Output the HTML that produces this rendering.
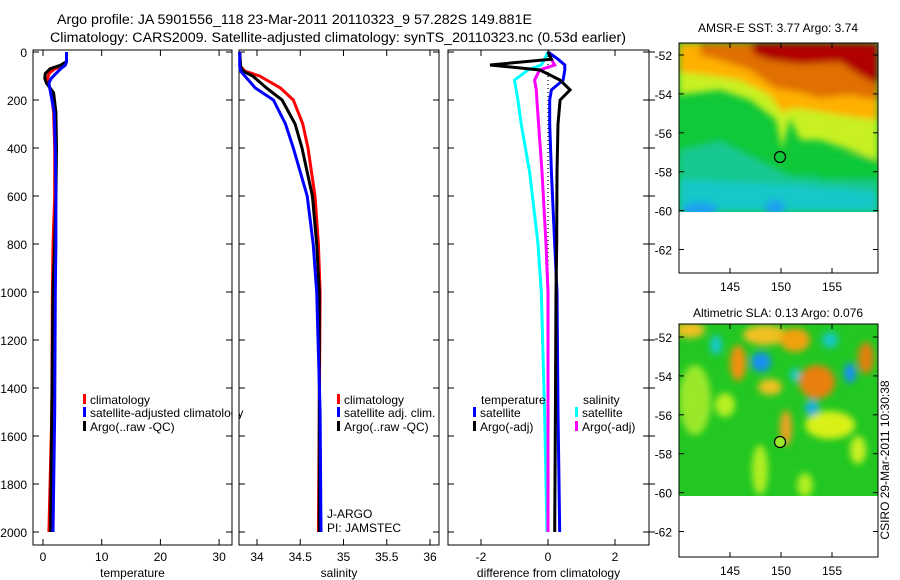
<!DOCTYPE html>
<html><head><meta charset="utf-8"><style>
body{margin:0;background:#fff;}
svg{display:block;font-family:"Liberation Sans",sans-serif;}
text{fill:#000;}
</style></head><body>
<svg id="fig" width="900" height="580" viewBox="0 0 900 580">
<defs>
<filter id="bl" x="-10%" y="-10%" width="120%" height="120%"><feGaussianBlur stdDeviation="3.5"/></filter>
<clipPath id="c1"><rect x="679" y="43" width="199" height="169"/></clipPath>
<clipPath id="c2"><rect x="679" y="324" width="199" height="172"/></clipPath>
</defs>
<text x="57" y="24" font-size="13.5" textLength="475" lengthAdjust="spacingAndGlyphs">Argo profile: JA 5901556_118 23-Mar-2011 20110323_9 57.282S 149.881E</text>
<text x="50" y="42" font-size="13.5" textLength="576" lengthAdjust="spacingAndGlyphs">Climatology: CARS2009. Satellite-adjusted climatology: synTS_20110323.nc (0.53d earlier)</text>
<g id="plots"></g>
<!-- map 1 -->
<g>
<text x="778" y="32" font-size="12" text-anchor="middle">AMSR-E SST: 3.77 Argo: 3.74</text>
<g clip-path="url(#c1)">
<rect x="679" y="43" width="199" height="169" fill="#10c838"/>
<g filter="url(#bl)">
<polygon points="679,150 720,140 760,160 790,175 840,178 878,180 878,212 679,212" fill="#14c890"/>
<polygon points="679,180 800,185 878,192 878,212 679,212" fill="#18c8c8"/>
<ellipse cx="700" cy="210" rx="18" ry="8" fill="#1aa0f0"/>
<ellipse cx="775" cy="208" rx="10" ry="8" fill="#1aa0f0"/>
<polygon points="800,165 878,150 878,180 820,180" fill="#10c838"/>
<polygon points="679,43 878,43 878,160 850,150 820,140 800,140 790,118 782,150 776,120 750,100 720,90 679,95" fill="#c8f020"/>
<polygon points="679,43 878,43 878,120 840,115 810,110 795,108 782,112 770,95 740,80 710,75 679,72" fill="#ffb000"/>
<polygon points="700,43 878,43 878,100 850,95 820,98 800,92 775,88 750,70 720,60 700,55" fill="#e07000"/>
<polygon points="750,43 878,43 878,85 860,75 840,62 800,64 770,60 755,55" fill="#b00000"/>
</g>
<circle cx="780" cy="157" r="5.5" fill="none" stroke="#000" stroke-width="1.2"/>
</g>
<rect x="679" y="43" width="199" height="230" fill="none" stroke="#000" stroke-width="1"/>
<g id="m1ticks"></g>
</g>
<!-- map 2 -->
<g>
<text x="778" y="317" font-size="12" text-anchor="middle">Altimetric SLA: 0.13 Argo: 0.076</text>
<g clip-path="url(#c2)">
<rect x="679" y="324" width="199" height="172" fill="#22c722"/>
<g filter="url(#bl)">
<ellipse cx="695" cy="400" rx="16" ry="35" fill="#9ae82a"/>
<ellipse cx="725" cy="405" rx="10" ry="12" fill="#b8f020"/>
<ellipse cx="760" cy="470" rx="8" ry="25" fill="#b0ee20"/>
<ellipse cx="805" cy="485" rx="8" ry="12" fill="#b0ee20"/>
<ellipse cx="830" cy="425" rx="25" ry="14" fill="#d8f018"/>
<ellipse cx="858" cy="450" rx="8" ry="14" fill="#c8f020"/>
<ellipse cx="690" cy="330" rx="15" ry="8" fill="#f0c020"/>
<ellipse cx="765" cy="335" rx="22" ry="10" fill="#f0c020"/>
<ellipse cx="795" cy="340" rx="15" ry="12" fill="#f0a010"/>
<ellipse cx="738" cy="363" rx="8" ry="18" fill="#f09010"/>
<ellipse cx="770" cy="387" rx="12" ry="8" fill="#f0c020"/>
<ellipse cx="817" cy="382" rx="18" ry="17" fill="#e88010"/>
<ellipse cx="866" cy="358" rx="8" ry="16" fill="#e08010"/>
<ellipse cx="786" cy="428" rx="6" ry="18" fill="#f0a020"/>
<ellipse cx="761" cy="362" rx="10" ry="10" fill="#1890f0"/>
<ellipse cx="716" cy="345" rx="6" ry="10" fill="#18c8c8"/>
<ellipse cx="850" cy="373" rx="6" ry="10" fill="#1890f0"/>
<ellipse cx="812" cy="408" rx="7" ry="8" fill="#18b0e0"/>
<ellipse cx="830" cy="340" rx="8" ry="8" fill="#18c8c8"/>
<ellipse cx="795" cy="375" rx="5" ry="7" fill="#18c8c8"/>
</g>
<circle cx="780" cy="442" r="5.5" fill="#9ae82a" stroke="#000" stroke-width="1.2"/>
</g>
<rect x="679" y="324" width="199" height="233" fill="none" stroke="#000" stroke-width="1"/>
<g id="m2ticks"></g>
</g>
<text transform="translate(889,460) rotate(-90)" font-size="12" text-anchor="middle">CSIRO 29-Mar-2011 10:30:38</text>
</svg>
<script>
// depth grids
const depthT = [0,40,55,70,90,110,130,170,250,400,600,800,1000,1500,2000];
const tempClim = [4.0,4.0,3.6,2.0,1.0,0.8,0.9,1.4,1.8,2.0,2.0,1.7,1.6,1.5,1.0];
const tempSat  = [4.0,4.0,3.8,3.0,2.2,1.4,1.0,1.3,1.9,2.1,2.2,2.2,2.1,2.0,1.7];
const tempArgo = [4.0,4.0,3.0,1.2,0.4,0.3,0.6,1.8,2.2,2.3,2.2,2.0,1.7,1.5,1.3];
const depthS = [0,60,80,100,150,200,300,400,600,800,1000,1500,2000];
const salClim = [33.80,33.81,33.86,34.03,34.27,34.42,34.53,34.59,34.67,34.71,34.73,34.72,34.71];
const salSat  = [33.80,33.80,33.81,33.86,33.98,34.19,34.33,34.42,34.58,34.65,34.69,34.73,34.74];
const salArgo = [33.80,33.81,33.84,33.95,34.11,34.29,34.44,34.52,34.64,34.69,34.72,34.72,34.72];
const depthD = [0,30,54,75,117,158,200,300,500,800,1000,1500,2000];
const dTempArgo = [0.0,0.1,-1.73,-0.24,0.36,0.66,0.36,0.30,0.27,0.26,0.24,0.22,0.20];
const dTempSat  = [0.0,0.3,0.5,0.5,0.45,0.1,0.05,0.05,0.1,0.2,0.27,0.3,0.35];
const dSalSat   = [0.0,-0.1,-0.2,-0.6,-1.0,-0.95,-0.9,-0.8,-0.55,-0.3,-0.2,-0.1,-0.03];
const dSalArgo  = [0.0,0.1,0.2,-0.25,-0.4,-0.35,-0.33,-0.28,-0.18,-0.06,0.0,0.0,0.0];
const depthTicks = [0,200,400,600,800,1000,1200,1400,1600,1800,2000];
const tempTicks = [0,10,20,30];
const salTicks = [34,34.5,35,35.5,36];
const diffTicks = [-2,0,2];
const latTicks = [-52,-54,-56,-58,-60,-62];
const lonTicks = [145,150,155];

const NS='http://www.w3.org/2000/svg';
const yD = d => 52 + 0.24*d;
const xT = t => 43 + 5.87*t;
const xS = s => 257 + 86.5*(s-34);
const xDf = v => 548 + 33.5*v;
const plots = document.getElementById('plots');
function mk(tag, attrs, parent){const e=document.createElementNS(NS,tag);for(const k in attrs)e.setAttribute(k,attrs[k]);(parent||plots).appendChild(e);return e;}
function txt(x,y,s,anchor,size,parent){const e=mk('text',{x:x,y:y,'font-size':size||12,'text-anchor':anchor||'start'},parent);e.textContent=s;return e;}
function line(xs,ys,color,name,w){
  const pts=xs.map((v,i)=>v.toFixed(1)+','+ys[i].toFixed(1)).join(' ');
  const e=mk('polyline',{points:pts,fill:'none',stroke:color,'stroke-width':w||3,'stroke-linejoin':'miter'});
  
  
}
function panel(x0,x1,name,xticks,xf,xlabel,yl){
  const g=mk('g',{});
  
  
  mk('rect',{x:x0,y:50,width:x1-x0,height:495,fill:'none',stroke:'#000','stroke-width':1},g);
  xticks.forEach(t=>{const x=xf(t);mk('line',{x1:x,x2:x,y1:545,y2:539,stroke:'#000'},g);mk('line',{x1:x,x2:x,y1:50,y2:56,stroke:'#000'},g);txt(x,561,String(t),'middle',12,g);});
  depthTicks.forEach(d=>{const y=yD(d);mk('line',{x1:x0,x2:x0+6,y1:y,y2:y,stroke:'#000'},g);mk('line',{x1:x1,x2:x1-6,y1:y,y2:y,stroke:'#000'},g);if(yl)txt(27,y+5,String(d),'end',12,g);});
  txt((x0+x1)/2,577,xlabel,'middle',12,g);
}
panel(33,232,'temperature-panel',tempTicks,xT,'temperature',true);
panel(239,439,'salinity-panel',salTicks,xS,'salinity',false);
panel(448,649,'difference-panel',diffTicks,xDf,'difference from climatology',false);
depthTicks.forEach(d=>{const y=yD(d);mk('line',{x1:649,x2:655,y1:y,y2:y,stroke:'#000'});});

const yT=depthT.map(yD), yS=depthS.map(yD), yDD=depthD.map(yD);
line(tempClim.map(xT),yT,'#ff0000','temp-climatology-line');
line(tempArgo.map(xT),yT,'#000000','temp-argo-line');
line(tempSat.map(xT),yT,'#0000ff','temp-satellite-line');
line(salClim.map(xS),yS,'#ff0000','sal-climatology-line');
line(salArgo.map(xS),yS,'#000000','sal-argo-line');
line(salSat.map(xS),yS,'#0000ff','sal-satellite-line');
mk('line',{x1:xDf(0),x2:xDf(0),y1:52,y2:532,stroke:'#000','stroke-dasharray':'1,3','stroke-width':1.2});
line(dSalSat.map(xDf),yDD,'#00ffff','diff-sal-satellite-line');
line(dSalArgo.map(xDf),yDD,'#ff00ff','diff-sal-argo-line');
line(dTempSat.map(xDf),yDD,'#0000ff','diff-temp-satellite-line');
line(dTempArgo.map(xDf),yDD,'#000000','diff-temp-argo-line');

function legend(x,y,color,label,name){
  const g=mk('g',{});
  
  
  mk('rect',{x:x,y:y-10,width:3,height:10,fill:color},g);
  txt(x+7,y,label,'start',12,g);
}
legend(83,404,'#ff0000','climatology','legend-climatology');
legend(83,417,'#0000ff','satellite-adjusted climatology','legend-satellite-adjusted');
legend(83,431,'#000000','Argo(..raw -QC)','legend-argo');
legend(337,404,'#ff0000','climatology','legend-sal-climatology');
legend(337,417,'#0000ff','satellite adj. clim.','legend-sal-satellite');
legend(337,431,'#000000','Argo(..raw -QC)','legend-sal-argo');
txt(327,518,'J-ARGO','start',12);
txt(327,532,'PI: JAMSTEC','start',12);
txt(481,404,'temperature','start',12);
legend(473,417,'#0000ff','satellite','legend-diff-temp-satellite');
legend(473,431,'#000000','Argo(-adj)','legend-diff-temp-argo');
txt(583,404,'salinity','start',12);
legend(575,417,'#00ffff','satellite','legend-diff-sal-satellite');
legend(575,431,'#ff00ff','Argo(-adj)','legend-diff-sal-argo');
mk('rect',{x:232.5,y:405,width:6,height:16,fill:'#fff'});

function mapTicks(id,lat0y,bottom,top){
  const g=document.getElementById(id);
  latTicks.forEach(l=>{const y=lat0y+(-52-l)*19.45;mk('line',{x1:679,x2:684,y1:y,y2:y,stroke:'#000'},g);mk('line',{x1:878,x2:873,y1:y,y2:y,stroke:'#000'},g);txt(672,y+5,String(l),'end',12,g);});
  lonTicks.forEach(l=>{const x=679+(l-140)*10.2;mk('line',{x1:x,x2:x,y1:bottom,y2:bottom-5,stroke:'#000'},g);mk('line',{x1:x,x2:x,y1:top,y2:top+5,stroke:'#000'},g);txt(x,bottom+18,String(l),'middle',12,g);});
}
mapTicks('m1ticks',55,273,43);
mapTicks('m2ticks',337,557,324);
</script>
</body></html>
